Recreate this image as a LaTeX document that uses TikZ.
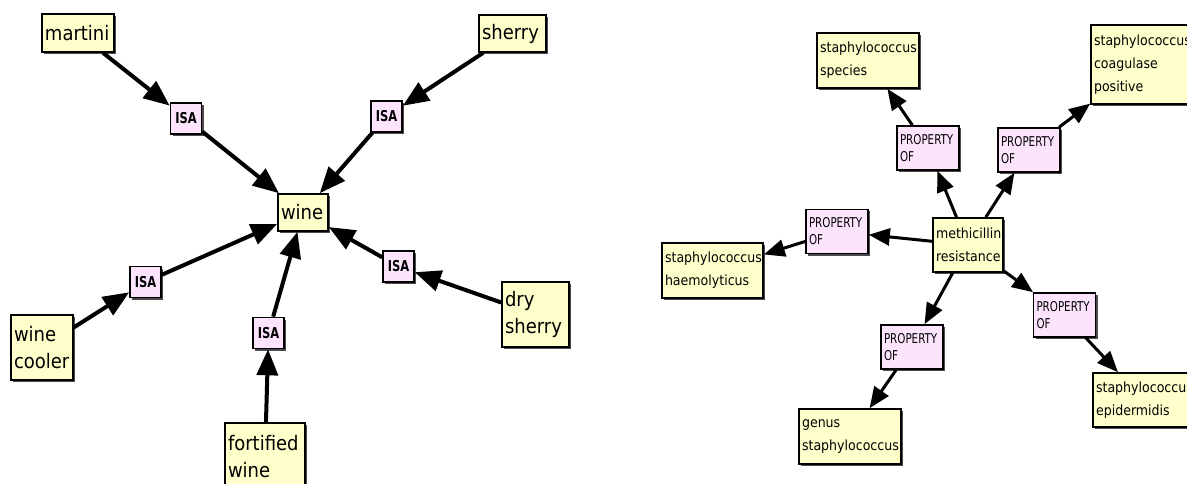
\documentclass[tikz,border=0pt]{standalone}
\usepackage{fontspec}
\setmainfont{DejaVu Sans Condensed}
\newfontfamily\narrowfont{DejaVu Sans Condensed}[FakeStretch=0.85]
\usetikzlibrary{arrows.meta,shadows}
\definecolor{ybg}{RGB}{255,255,204}
\definecolor{pbg}{RGB}{252,228,252}
\tikzset{
  box/.style={rectangle, draw=black, line width=1.6pt, inner xsep=3pt, inner ysep=0pt, align=left,
    drop shadow={shadow xshift=2pt, shadow yshift=-2pt, opacity=0.7, fill=black}},
  concept/.style={box, fill=ybg},
  rel/.style={box, fill=pbg},
  bigtxt/.style={font=\fontsize{20}{27}\selectfont},
  smalltxt/.style={font=\fontsize{14}{23}\selectfont},
  isa/.style={rel, align=center, inner sep=0pt, minimum width=31pt, minimum height=31pt, font=\narrowfont\bfseries\fontsize{15}{17}\selectfont},
  po/.style={rel, text width=56pt, minimum height=44pt, font=\narrowfont\fontsize{13.5}{17}\selectfont},
  sz/.style 2 args={text width=#1, minimum height=#2},
  bigarrow/.style={-{Triangle[length=26pt,width=21pt]}, line width=4pt},
  smallarrow/.style={-{Triangle[length=21pt,width=17pt]}, line width=3pt},
}
\begin{document}
\begin{tikzpicture}[x=1pt,y=-1pt]
\useasboundingbox (0,0) rectangle (1187,484);
\clip (0,0) rectangle (1187,484);
% ---------- left diagram ----------
\node[concept, bigtxt, sz={66pt}{38pt}] (martini) at (78,33) {martini};
\node[concept, bigtxt, sz={61pt}{37pt}] (sherry) at (512.5,33.5) {sherry};
\node[concept, bigtxt, sz={44pt}{37pt}] (wine) at (303,212.5) {wine};
\node[concept, bigtxt, sz={56pt}{65pt}] (cooler) at (42,347.5) {wine\\cooler};
\node[concept, bigtxt, sz={61pt}{65pt}] (dry) at (535.5,314.5) {dry\\sherry};
\node[concept, bigtxt, sz={74pt}{67pt}] (fort) at (265,456.5) {fortified\\wine};
\node[isa] (isa1) at (186,118.5) {ISA};
\node[isa] (isa2) at (386.5,116.5) {ISA};
\node[isa] (isa3) at (145.5,282) {ISA};
\node[isa] (isa4) at (268.5,333) {ISA};
\node[isa] (isa5) at (398.5,266.5) {ISA};
\draw[bigarrow] (martini) -- (isa1);
\draw[bigarrow] (isa1) -- (wine);
\draw[bigarrow] (sherry) -- (isa2);
\draw[bigarrow] (isa2) -- (wine);
\draw[bigarrow] (cooler) -- (isa3);
\draw[bigarrow] (isa3) -- (wine);
\draw[bigarrow] (fort) -- (isa4);
\draw[bigarrow] (isa4) -- (wine);
\draw[bigarrow] (dry) -- (isa5);
\draw[bigarrow] (isa5) -- (wine);
% ---------- right diagram ----------
\node[concept, smalltxt, sz={96pt}{55pt}] (species) at (868,60.5) {staphylococcus\\species};
\node[concept, smalltxt, sz={96pt}{79pt}] (coag) at (1142,64.5) {staphylococcus\\coagulase\\positive};
\node[concept, smalltxt, sz={95pt}{55pt}] (haem) at (712.5,270.5) {staphylococcus\\haemolyticus};
\node[concept, smalltxt, sz={64pt}{54pt}] (meth) at (968,245) {methicillin\\resistance};
\node[concept, smalltxt, sz={96pt}{55pt}] (genus) at (850,436.5) {genus\\staphylococcus};
\node[concept, smalltxt, sz={96pt}{54pt}] (epi) at (1144,400) {staphylococcus\\epidermidis};
\node[po] (po1) at (928,148) {PROPERTY\\OF};
\node[po] (po2) at (1029,150) {PROPERTY\\OF};
\node[po] (po3) at (837,231.5) {PROPERTY\\OF};
\node[po] (po4) at (912,347) {PROPERTY\\OF};
\node[po] (po5) at (1064.5,315) {PROPERTY\\OF};
\draw[smallarrow] (meth) -- (po1);
\draw[smallarrow] (po1) -- (species);
\draw[smallarrow] (meth) -- (po2);
\draw[smallarrow] (po2) -- (coag);
\draw[smallarrow] (meth) -- (po3);
\draw[smallarrow] (po3) -- (haem);
\draw[smallarrow] (meth) -- (po4);
\draw[smallarrow] (po4) -- (genus);
\draw[smallarrow] (meth) -- (po5);
\draw[smallarrow] (po5) -- (epi);
\end{tikzpicture}
\end{document}
